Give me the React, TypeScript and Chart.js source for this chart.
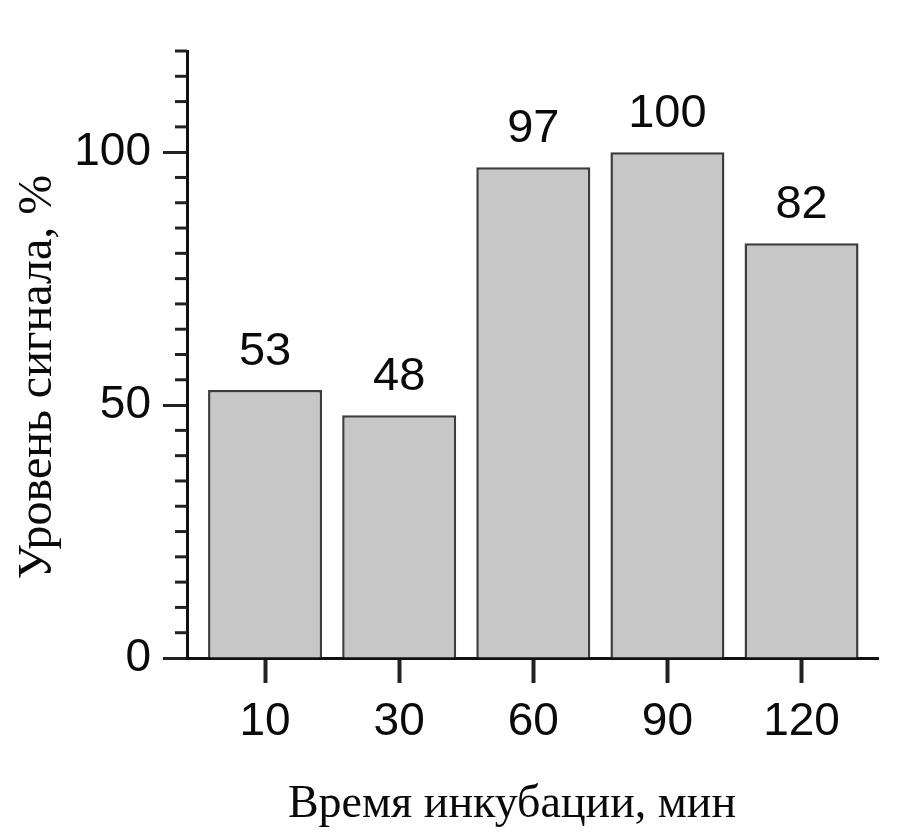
import React, { useEffect, useRef } from "react";
import { Chart, registerables } from "chart.js";

Chart.register(...registerables);

const categories = ["10", "30", "60", "90", "120"];
const values = [53, 48, 97, 100, 82];
const yMajorTicks = [0, 50, 100];
const xTitle = "Время инкубации, мин";
const yTitle = "Уровень сигнала, %";

const sans = "'Liberation Sans', Arial, Helvetica, sans-serif";
const serif = "'Liberation Serif', 'Times New Roman', serif";

export default function App() {
  const ref = useRef<HTMLCanvasElement>(null);

  useEffect(() => {
    document.body.style.margin = "0";
    const canvas = ref.current;
    if (!canvas) return;

    const extras = {
      id: "extras",
      beforeDraw(chart: any) {
        const ctx = chart.ctx;
        ctx.save();
        ctx.fillStyle = "#ffffff";
        ctx.fillRect(0, 0, chart.width, chart.height);
        ctx.restore();
      },
      afterDraw(chart: any) {
        const ctx = chart.ctx;
        const area = chart.chartArea;
        ctx.save();
        const meta = chart.getDatasetMeta(0);
        ctx.fillStyle = "#0a0a0a";
        ctx.font = `47px ${sans}`;
        ctx.textAlign = "center";
        ctx.textBaseline = "alphabetic";
        meta.data.forEach((bar: any, i: number) => {
          ctx.fillText(String(values[i]), bar.x, bar.y - 25);
        });
        const ys = chart.scales.y;
        ctx.strokeStyle = "#222";
        ctx.lineWidth = 3;
        ys.ticks.forEach((t: any) => {
          if (yMajorTicks.includes(t.value)) return;
          const py = ys.getPixelForValue(t.value);
          ctx.beginPath();
          ctx.moveTo(area.left - 12, py);
          ctx.lineTo(area.left, py);
          ctx.stroke();
        });
        ctx.fillStyle = "#0a0a0a";
        ctx.textAlign = "center";
        ctx.font = `46px ${serif}`;
        ctx.fillText(xTitle, 512, 817);
        ctx.font = `48px ${serif}`;
        ctx.translate(51, 377);
        ctx.rotate(-Math.PI / 2);
        ctx.fillText(yTitle, 0, 0);
        ctx.restore();
      },
    };

    const chart = new Chart(canvas, {
      type: "bar",
      data: {
        datasets: [
          {
            data: values.map((v, i) => ({ x: i, y: v })),
            backgroundColor: "#c7c7c7",
            borderColor: "#3c3c3c",
            borderWidth: 2.5,
            categoryPercentage: 1,
            barPercentage: 0.85,
          },
        ],
      },
      options: {
        responsive: false,
        animation: false,
        layout: { padding: { left: 0, right: 32, top: 51, bottom: 0 } },
        plugins: {
          legend: { display: false },
          tooltip: { enabled: false },
        },
        scales: {
          x: {
            type: "linear",
            offset: false,
            min: -0.582,
            max: 4.57,
            afterBuildTicks: (s: any) => {
              s.ticks = s.ticks.filter(
                (t: any) => Number.isInteger(t.value) && t.value >= 0 && t.value < categories.length
              );
            },
            afterFit: (s: any) => {
              s.height = 180;
            },
            ticks: {
              stepSize: 1,
              includeBounds: false,
              autoSkip: false,
              maxRotation: 0,
              callback: (v: any) => categories[v] ?? "",
              font: { family: sans, size: 46 },
              color: "#0a0a0a",
              padding: 12,
            },
            grid: {
              offset: false,
              drawOnChartArea: false,
              drawTicks: true,
              tickLength: 25,
              tickWidth: 4,
              tickColor: "#222",
            },
            border: { display: true, color: "#111", width: 3 },
          },
          y: {
            min: 0,
            max: 120,
            afterFit: (s: any) => {
              s.width = 187;
            },
            ticks: {
              stepSize: 5,
              autoSkip: false,
              callback: (v: any) => (yMajorTicks.includes(v) ? String(v) : ""),
              font: { family: sans, size: 46 },
              color: "#0a0a0a",
              padding: 12,
            },
            grid: {
              drawOnChartArea: false,
              drawTicks: true,
              tickLength: 24,
              tickWidth: 3,
              tickColor: (ctx: any) =>
                yMajorTicks.includes(ctx.tick?.value) ? "#222" : "rgba(0,0,0,0)",
            },
            border: { display: true, color: "#111", width: 3 },
          },
        },
      },
      plugins: [extras],
    } as any);

    return () => chart.destroy();
  }, []);

  return (
    <div style={{ width: 910, height: 838, overflow: "hidden" }}>
      <canvas ref={ref} width={910} height={838} style={{ display: "block" }} />
    </div>
  );
}
